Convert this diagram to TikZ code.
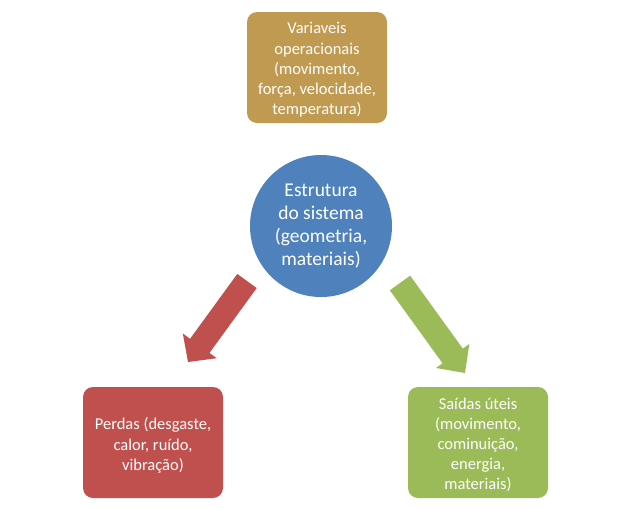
\documentclass[tikz,border=0pt]{standalone}
\usepackage{fontspec}
\setmainfont{Carlito}
\usetikzlibrary{calc}
\definecolor{goldc}{HTML}{C09A50}
\definecolor{bluec}{HTML}{4F81BD}
\definecolor{redc}{HTML}{C0504D}
\definecolor{greenc}{HTML}{9BBB59}
\tikzset{
  boxnode/.style={rectangle, rounded corners=10pt, minimum width=140pt, minimum height=111pt,
    inner sep=0pt},
  boxtext/.style={align=center, text=white, inner sep=0pt, font=\fontsize{16.5}{20.2}\selectfont},
  circnode/.style={circle, minimum size=142pt, align=center, text=white, inner sep=0pt,
    fill=bluec, font=\fontsize{19.5}{23}\selectfont}
}
\begin{document}
\begin{tikzpicture}[x=1pt,y=-1pt]
\useasboundingbox (0,0) rectangle (635,507);
\node[boxnode, fill=goldc] (top) at (317,67.5) {};
\node[boxtext] (toptext) at ($(top.center)+(0,2.5)$) {Variaveis\\operacionais\\(movimento,\\força, velocidade,\\temperatura)};
\node[circnode] (mid) at (321,226) {Estrutura\\do sistema\\(geometria,\\materiais)};
\node[boxnode, fill=redc] (left) at (153,442.5) {};
\node[boxtext] (lefttext) at ($(left.center)+(0,3)$) {Perdas (desgaste,\\calor, ruído,\\vibração)};
\node[boxnode, fill=greenc] (right) at (478,442.5) {};
\node[boxtext] (righttext) at ($(right.center)+(0,2.5)$) {Saídas úteis\\(movimento,\\cominuição,\\energia,\\materiais)};
% red arrow
\coordinate (rt) at (247,281);
\coordinate (rh) at (188,362);
\coordinate (rb) at ($(rh)!20pt!(rt)$);
\fill[redc] ($(rt)!12pt!90:(rh)$) -- ($(rb)!12pt!90:(rh)$) -- ($(rb)!21pt!90:(rh)$) -- (rh)
  -- ($(rb)!21pt!-90:(rh)$) -- ($(rb)!12pt!-90:(rh)$) -- ($(rt)!12pt!-90:(rh)$) -- cycle;
% green arrow
\coordinate (gt) at (400,283);
\coordinate (gh) at (465,373);
\coordinate (gb) at ($(gh)!21pt!(gt)$);
\fill[greenc] ($(gt)!12.5pt!90:(gh)$) -- ($(gb)!12.5pt!90:(gh)$) -- ($(gb)!20.5pt!90:(gh)$) -- (gh)
  -- ($(gb)!20.5pt!-90:(gh)$) -- ($(gb)!12.5pt!-90:(gh)$) -- ($(gt)!12.5pt!-90:(gh)$) -- cycle;
\end{tikzpicture}
\end{document}
